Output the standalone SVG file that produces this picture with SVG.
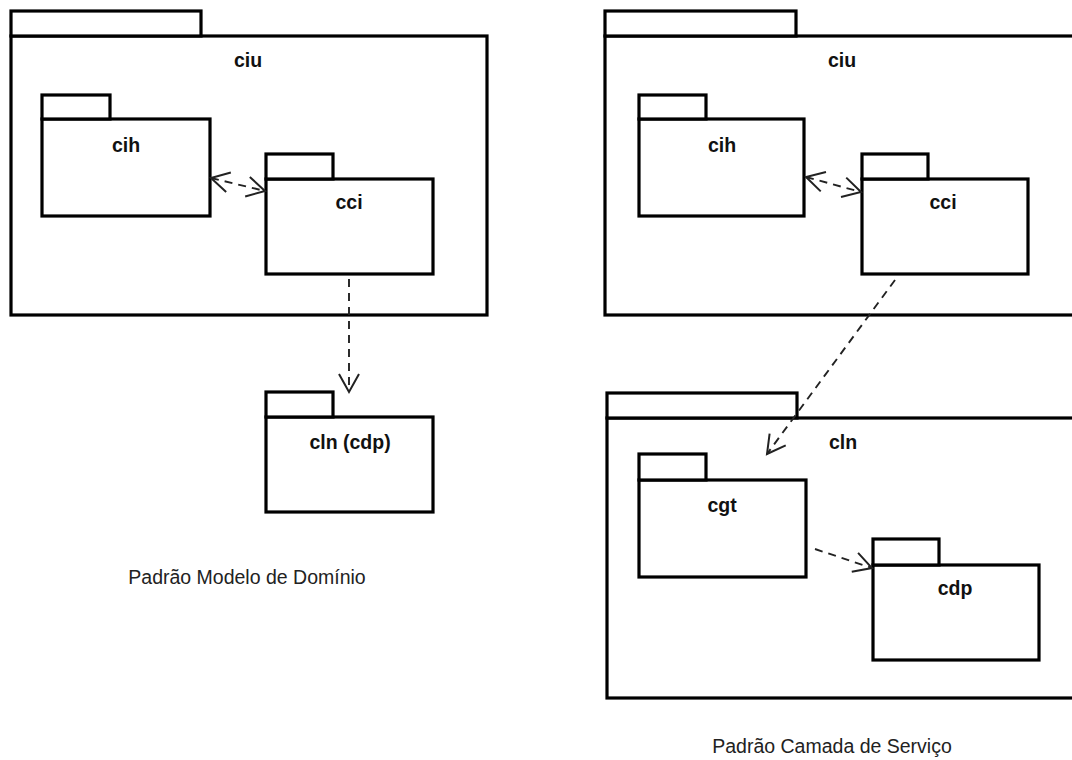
<svg xmlns="http://www.w3.org/2000/svg" width="1072" height="760" viewBox="0 0 1072 760">
  <style>
    .pkg rect { fill: #ffffff; stroke: #000000; stroke-width: 3.2; }
    .lbl { font-family: "Liberation Sans", Arial, sans-serif; font-weight: bold; font-size: 19.5px; fill: #111111; text-anchor: middle; }
    .cap { font-family: "Liberation Sans", Arial, sans-serif; font-size: 19.5px; fill: #222222; text-anchor: middle; }
    .dep { fill: none; stroke: #222222; stroke-width: 1.9; stroke-dasharray: 8 6; }
  </style>
  <defs>
    <marker id="open" markerUnits="userSpaceOnUse" markerWidth="24" markerHeight="24" viewBox="-20 -12 22 24" refX="0" refY="0" orient="auto-start-reverse">
      <path d="M -18 -10 L 0 0 L -18 10" fill="none" stroke="#222222" stroke-width="2"/>
    </marker>
  </defs>
  <rect width="1072" height="760" fill="#ffffff"/>

  <!-- Left: domain model pattern -->
  <g id="ciu-left" class="pkg">
    <rect x="11" y="36" width="476" height="279"/>
    <rect x="11" y="11" width="190" height="25"/>
    <text class="lbl" x="248" y="67">ciu</text>
  </g>
  <g id="cih-left" class="pkg">
    <rect x="42" y="119" width="168" height="97"/>
    <rect x="42" y="95" width="68" height="24"/>
    <text class="lbl" x="126" y="152">cih</text>
  </g>
  <g id="cci-left" class="pkg">
    <rect x="266" y="179" width="167" height="95"/>
    <rect x="266" y="154" width="67" height="25"/>
    <text class="lbl" x="349" y="209">cci</text>
  </g>
  <g id="cln-cdp-left" class="pkg">
    <rect x="266" y="417" width="167" height="95"/>
    <rect x="266" y="392" width="67" height="25"/>
    <text class="lbl" x="350" y="449">cln (cdp)</text>
  </g>
  <text class="cap" x="247" y="584">Padrão Modelo de Domínio</text>

  <!-- Right: service layer pattern -->
  <g id="ciu-right" class="pkg">
    <rect x="605" y="36" width="480" height="279"/>
    <rect x="605" y="11" width="191" height="25"/>
    <text class="lbl" x="842" y="67">ciu</text>
  </g>
  <g id="cih-right" class="pkg">
    <rect x="639" y="119" width="165" height="97"/>
    <rect x="639" y="95" width="67" height="24"/>
    <text class="lbl" x="722" y="152">cih</text>
  </g>
  <g id="cci-right" class="pkg">
    <rect x="862" y="179" width="166" height="95"/>
    <rect x="862" y="154" width="66" height="25"/>
    <text class="lbl" x="943" y="209">cci</text>
  </g>
  <g id="cln-right" class="pkg">
    <rect x="607" y="418" width="480" height="280"/>
    <rect x="607" y="393" width="190" height="25"/>
    <text class="lbl" x="843" y="449">cln</text>
  </g>
  <g id="cgt" class="pkg">
    <rect x="639" y="480" width="167" height="97"/>
    <rect x="639" y="454" width="67" height="26"/>
    <text class="lbl" x="722" y="512">cgt</text>
  </g>
  <g id="cdp" class="pkg">
    <rect x="873" y="565" width="166" height="95"/>
    <rect x="873" y="539" width="66" height="26"/>
    <text class="lbl" x="955" y="595">cdp</text>
  </g>
  <text class="cap" x="832" y="753">Padrão Camada de Serviço</text>

  <!-- Dependencies -->
  <g id="connectors">
    <line class="dep" x1="211" y1="178" x2="265" y2="191" marker-start="url(#open)" marker-end="url(#open)"/>
    <line class="dep" x1="349" y1="279" x2="349" y2="392" marker-end="url(#open)"/>
    <line class="dep" x1="806" y1="177" x2="861" y2="192" marker-start="url(#open)" marker-end="url(#open)"/>
    <line class="dep" x1="895" y1="280" x2="767" y2="454" marker-end="url(#open)"/>
    <line class="dep" x1="815" y1="549" x2="872" y2="568" marker-end="url(#open)"/>
  </g>
</svg>
